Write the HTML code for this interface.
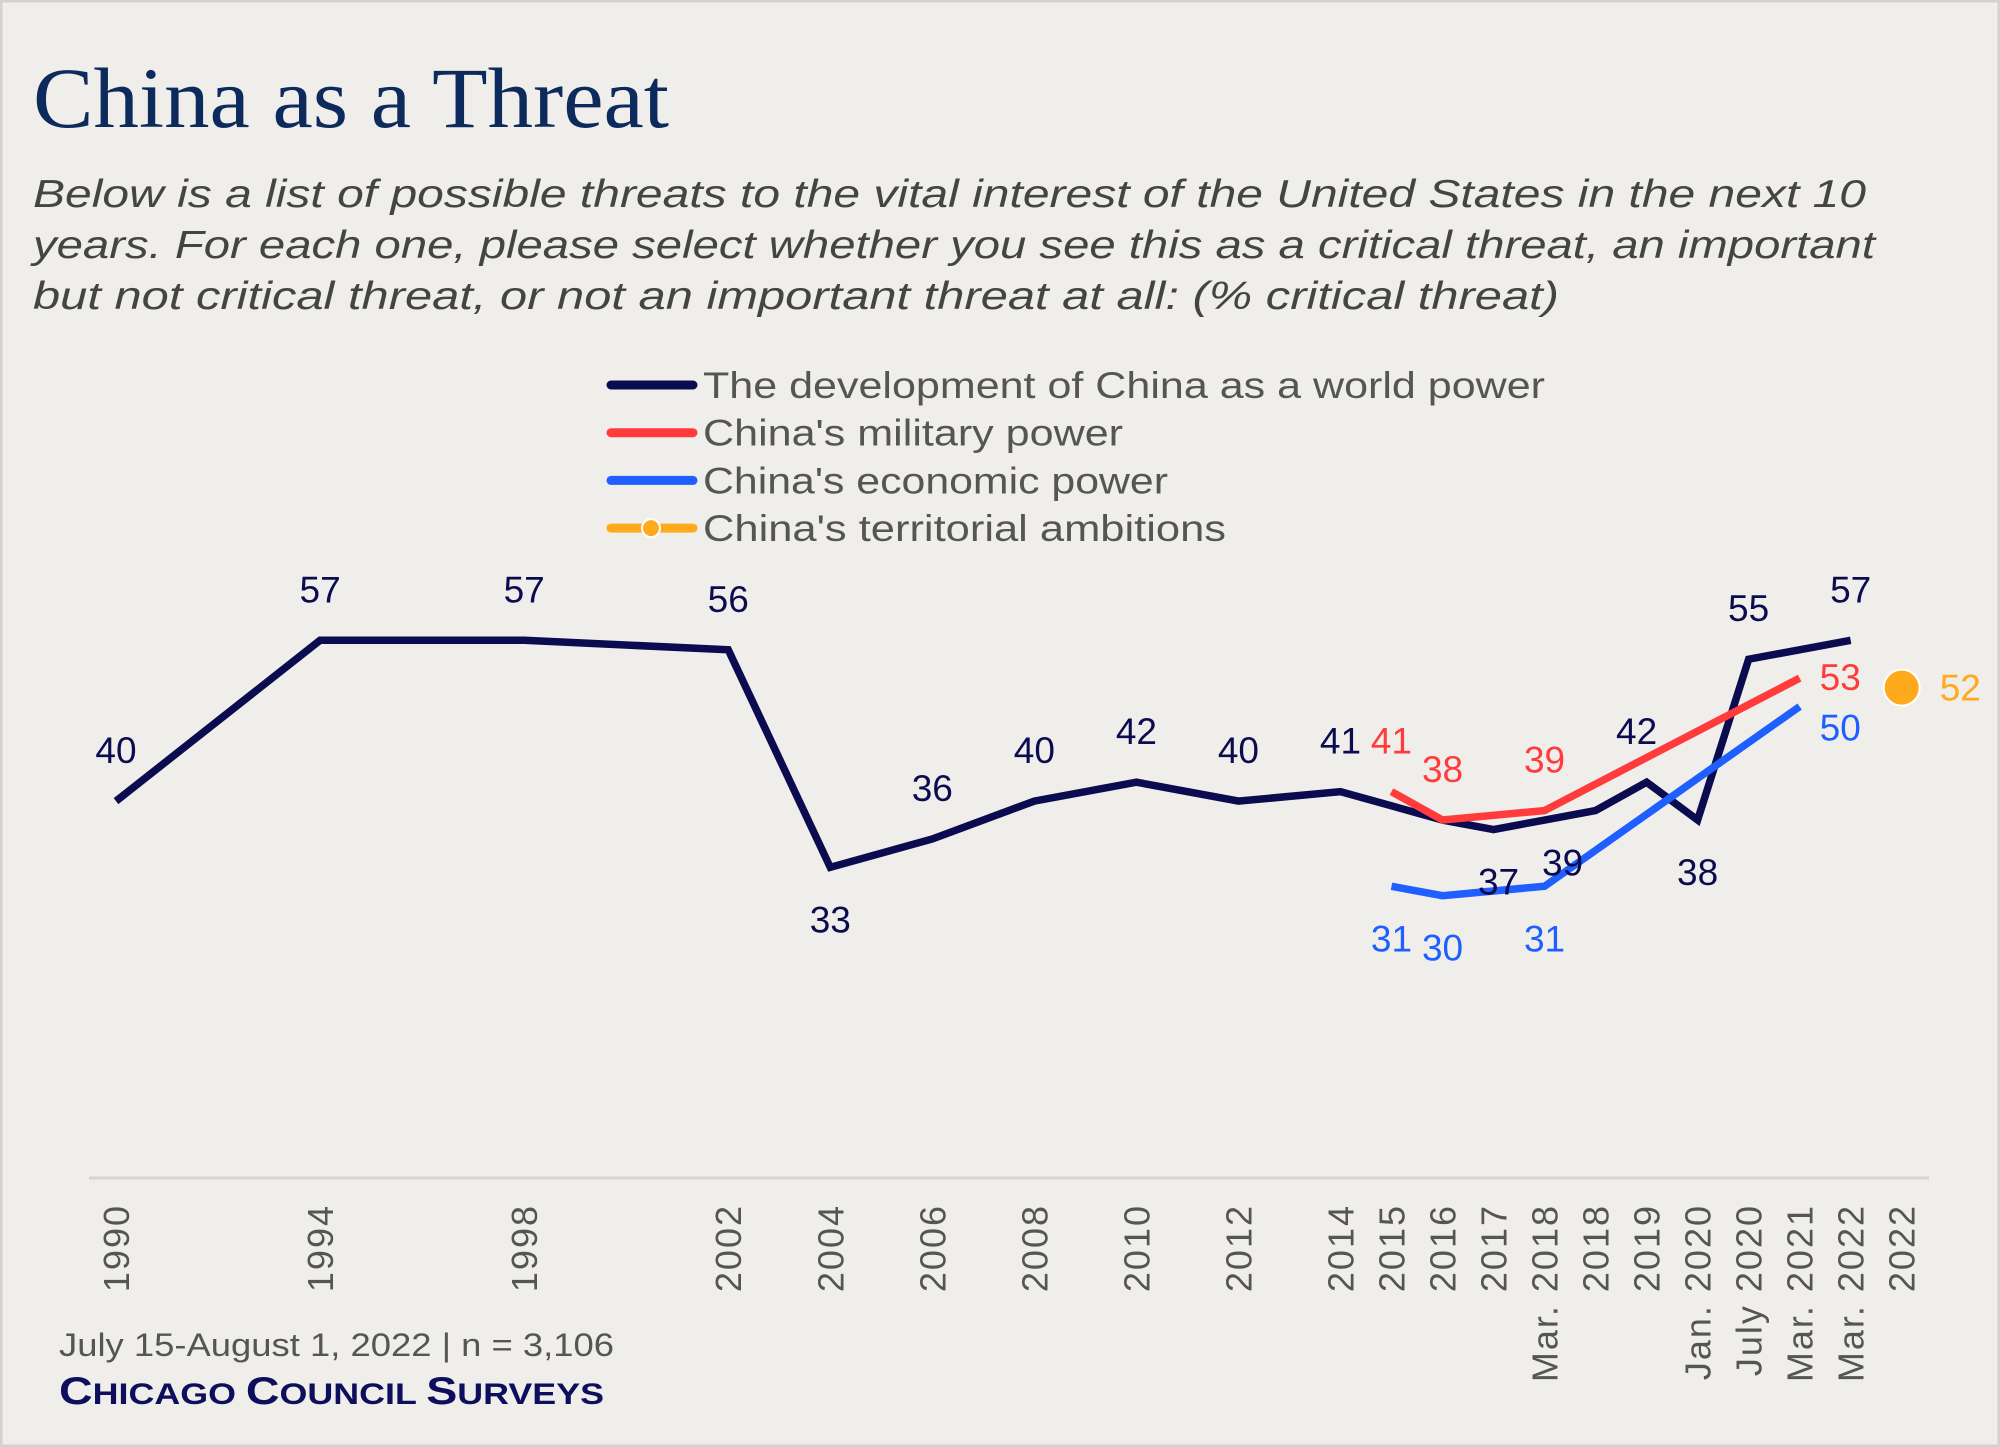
<!DOCTYPE html>
<html><head><meta charset="utf-8"><style>
html,body{margin:0;padding:0;background:#f0eeeb}
svg{display:block}
</style></head><body>
<svg width="2000" height="1447" viewBox="0 0 2000 1447" xmlns="http://www.w3.org/2000/svg" id="chart">
<rect x="1" y="1" width="1998" height="1445" fill="#f0eeeb" stroke="#d4d2cf" stroke-width="3"/>
<text x="33" y="127" font-family="Liberation Serif, serif" font-size="86" fill="#0d2a5c" textLength="636" lengthAdjust="spacingAndGlyphs">China as a Threat</text>
<g font-family="Liberation Sans, sans-serif" font-style="italic" font-size="39" fill="#444">
<text x="33" y="207" textLength="1833" lengthAdjust="spacingAndGlyphs">Below is a list of possible threats to the vital interest of the United States in the next 10</text>
<text x="33" y="258" textLength="1842" lengthAdjust="spacingAndGlyphs">years. For each one, please select whether you see this as a critical threat, an important</text>
<text x="33" y="309" textLength="1526" lengthAdjust="spacingAndGlyphs">but not critical threat, or not an important threat at all: (% critical threat)</text>
</g>
<g id="legend" font-family="Liberation Sans, sans-serif" font-size="37" fill="#555"></g>
<line x1="89" y1="1178" x2="1929" y2="1178" stroke="#d6d4d1" stroke-width="3"/>
<g id="xticks" font-family="Liberation Sans, sans-serif" font-size="36" fill="#555" letter-spacing="2"></g>
<g id="series"></g>
<g id="labels" font-family="Liberation Sans, sans-serif" font-size="37" text-anchor="middle"></g>
<text x="59" y="1356" font-family="Liberation Sans, sans-serif" font-size="32" fill="#555" textLength="555" lengthAdjust="spacingAndGlyphs">July 15-August 1, 2022 | n = 3,106</text>
<text x="59" y="1404" font-family="Liberation Sans, sans-serif" font-weight="bold" fill="#0d0f5c" textLength="545" lengthAdjust="spacingAndGlyphs"><tspan font-size="39">C</tspan><tspan font-size="30">HICAGO </tspan><tspan font-size="39">C</tspan><tspan font-size="30">OUNCIL </tspan><tspan font-size="39">S</tspan><tspan font-size="30">URVEYS</tspan></text>
</svg>
<script>
const categories = ["1990","1994","1998","2002","2004","2006","2008","2010","2012","2014","2015","2016","2017","Mar. 2018","2018","2019","Jan. 2020","July 2020","Mar. 2021","Mar. 2022","2022"];
const catPos = [0,4,8,12,14,16,18,20,22,24,25,26,27,28,29,30,31,32,33,34,35];
const devCats = ["1990","1994","1998","2002","2004","2006","2008","2010","2012","2014","2016","2017","Mar. 2018","2018","2019","Jan. 2020","July 2020","Mar. 2022"];
const devVals = [40,57,57,56,33,36,40,42,40,41,38,37,38,39,42,38,55,57];
const devShow = [1,1,1,1,1,1,1,1,1,1,0,1,0,1,1,1,1,1];
const devPlace = ["a","a","a","a","b","a","a","a","a","a","a","b","a","b","a","b","a","a"];
const devShift = [0,0,0,0,0,0,0,0,0,0,0,5,0,-33,-10,0,0,0];
const milCats = ["2015","2016","Mar. 2018","Mar. 2021"];
const milVals = [41,38,39,53];
const milPlace = ["a","a","a","r"];
const ecoCats = ["2015","2016","Mar. 2018","Mar. 2021"];
const ecoVals = [31,30,31,50];
const ecoPlace = ["b","b","b","r"];
const terCats = ["2022"];
const terVals = [52];
const legendNames = ["The development of China as a world power","China's military power","China's economic power","China's territorial ambitions"];
const legendWidths = [842,420,465,523];

const NS="http://www.w3.org/2000/svg";
const X = c => 116 + 51.02*catPos[categories.indexOf(c)];
const Y = v => 640.3 + (57 - v)*9.46;
function mk(tag, attrs, parent){const e=document.createElementNS(NS,tag);for(const k in attrs)e.setAttribute(k,attrs[k]);parent.appendChild(e);return e;}

const xt=document.getElementById('xticks');
categories.forEach(c=>{
  const x=X(c)+13;
  const t=mk('text',{transform:`translate(${x},1204) rotate(-90)`,'text-anchor':'end'},xt);
  
  
  t.textContent=c;
});

const sg=document.getElementById('series');
const lg=document.getElementById('labels');
function drawLine(cats, vals, color, name){
  const pts=cats.map((c,i)=>X(c)+','+Y(vals[i])).join(' ');
  const p=mk('polyline',{points:pts,fill:'none',stroke:color,'stroke-width':7.5,'stroke-linejoin':'miter','stroke-linecap':'butt'},sg);
  
  
}
function drawLabels(cats, vals, place, color, show, shift){
  cats.forEach((c,i)=>{
    if(show && !show[i]) return;
    let x=X(c)+(shift?shift[i]:0), y=Y(vals[i]), anchor='middle';
    if(place[i]==='a') y-=38;
    else if(place[i]==='b') y+=65;
    else {x+=20; y+=12; anchor='start';}
    const t=mk('text',{x:x,y:y,fill:color,'text-anchor':anchor},lg);
    
    
    t.textContent=vals[i];
  });
}
const navy="#0b0b4f", red="#ff3b3b", blue="#1f5fff", orange="#ffaa1d";
drawLine(devCats,devVals,navy,'line-china-world-power');
drawLine(ecoCats,ecoVals,blue,'line-china-economic-power');
drawLine(milCats,milVals,red,'line-china-military-power');
terCats.forEach((c,i)=>{
  const d=mk('circle',{cx:X(c),cy:Y(terVals[i]),r:18,fill:orange,stroke:'#fff','stroke-width':2},sg);
  
  
  const t=mk('text',{x:X(c)+38,y:Y(terVals[i])+13,fill:orange,'text-anchor':'start'},lg);
  
  
  t.textContent=terVals[i];
});
drawLabels(devCats,devVals,devPlace,navy,devShow,devShift);
drawLabels(milCats,milVals,milPlace,red);
drawLabels(ecoCats,ecoVals,ecoPlace,blue,null,[0,0,0,0]);
// nudge economic right-side label downward
lg.lastChild.setAttribute('y', parseFloat(lg.lastChild.getAttribute('y'))+22);

const lgG=document.getElementById('legend');
const lcol=[navy,red,blue,orange];
legendNames.forEach((n,i)=>{
  const y=385+i*47.7;
  const l=mk('line',{x1:611,y1:y,x2:693,y2:y,stroke:lcol[i],'stroke-width':9,'stroke-linecap':'round'},lgG);
  
  
  if(i===3){
    const c=mk('circle',{cx:651,cy:y,r:9,fill:orange,stroke:'#fff','stroke-width':2},lgG);
    
    
  }
  const t=mk('text',{x:703,y:y+13,textLength:legendWidths[i],lengthAdjust:'spacingAndGlyphs'},lgG);
  
  
  t.textContent=n;
});
</script>
</body></html>
